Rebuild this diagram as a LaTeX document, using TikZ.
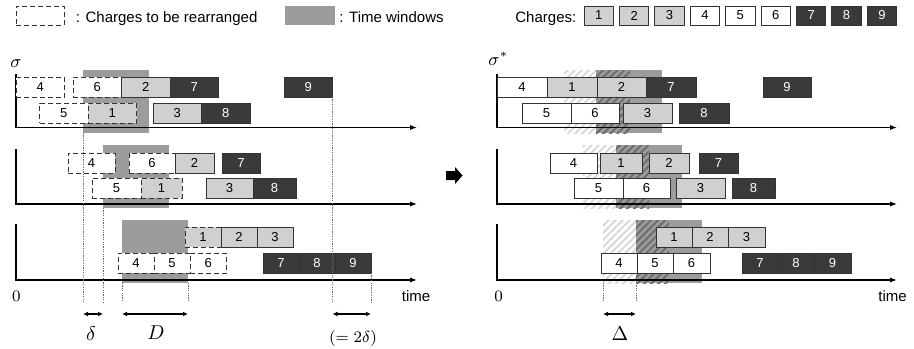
\documentclass[tikz,border=0pt]{standalone}
\usepackage{fontspec}
\setmainfont{Liberation Sans}
\usepackage[dvipsnames]{xcolor}
\usetikzlibrary{positioning,arrows.meta,patterns.meta}

\definecolor{lightbar}{HTML}{D0D0D0}
\definecolor{darkbar}{HTML}{3A3A3A}
\definecolor{winshade}{HTML}{9C9C9C}
\definecolor{hatchlight}{HTML}{D8D8D8}
\definecolor{hatchdark}{HTML}{6E6E6E}

\begin{document}
\begin{tikzpicture}[x=0.5pt,y=-0.5pt,
  bar/.style={draw=black!80,line width=0.5pt,fill=white,minimum height=10pt,inner sep=0pt,outer sep=0pt,anchor=north west,font=\fontsize{6.5}{7}\selectfont},
  barw/.style={minimum width=#1*0.5pt},
  lite/.style={fill=lightbar},
  dark/.style={fill=darkbar,text=white},
  moved/.style={dash pattern=on 2.5pt off 1.5pt},
  window/.style={fill=winshade,minimum width=33pt,minimum height=31.5pt,inner sep=0pt,outer sep=0pt,anchor=north west},
  hatch/.style={pattern={Lines[angle=45,distance=2.5pt,line width=1pt]},pattern color=hatchlight,minimum width=33pt,minimum height=31.5pt,inner sep=0pt,outer sep=0pt,anchor=north west},
  axis/.style={line width=0.6pt,-{Latex[length=3.5pt,width=2.6pt]}},
  guide/.style={black!60,line width=0.4pt,dash pattern=on 0.6pt off 0.6pt},
  dimline/.style={line width=0.6pt,{Latex[length=2.5pt,width=2.4pt]}-{Latex[length=2.5pt,width=2.4pt]}},
  legend/.style={font=\fontsize{7.5}{9}\selectfont,inner sep=0pt,anchor=base west},
  maths/.style={font=\fontsize{8.5}{10}\selectfont,inner sep=0pt},
  bigmaths/.style={font=\fontsize{10}{12}\selectfont,inner sep=0pt}]

\useasboundingbox (0,0) rectangle (914,348);

% legend
\node[bar,moved,barw=48,minimum height=9.5pt] (keyMoved) at (16,6) {};
\node[legend] (keyMovedText) at (75.5,22) {: Charges to be rearranged};
\node[window,minimum width=25pt,minimum height=9.5pt] (keyWin) at (285,6) {};
\node[legend] (keyWinText) at (339,22) {: Time windows};
\node[legend] (keyCharges) at (515,22) {Charges:};
\node[bar,lite,barw=29.5,minimum height=9.5pt] (K1) at (584,6) {1};
\node[bar,lite,barw=29.5,minimum height=9.5pt,right=2.95pt of K1] (K2) {2};
\node[bar,lite,barw=29.5,minimum height=9.5pt,right=2.95pt of K2] (K3) {3};
\node[bar,barw=29.5,minimum height=9.5pt,right=2.95pt of K3] (K4) {4};
\node[bar,barw=29.5,minimum height=9.5pt,right=2.95pt of K4] (K5) {5};
\node[bar,barw=29.5,minimum height=9.5pt,right=2.95pt of K5] (K6) {6};
\node[bar,dark,barw=29.5,minimum height=9.5pt,right=2.95pt of K6] (K7) {7};
\node[bar,dark,barw=29.5,minimum height=9.5pt,right=2.95pt of K7] (K8) {8};
\node[bar,dark,barw=29.5,minimum height=9.5pt,right=2.95pt of K8] (K9) {9};

% time windows
\node[window] (LW1) at (83,70) {};
\node[window] (LW2) at (103,145) {};
\node[window] (LW3) at (122,220) {};
\node[hatch] (RH1) at (564,70) {};
\node[hatch] (RH2) at (583,145) {};
\node[hatch] (RH3) at (603,220) {};
\node[window] (RW1) at (596,70) {};
\node[window] (RW2) at (616,145) {};
\node[window] (RW3) at (636,220) {};
\fill[pattern={Lines[angle=45,distance=2.5pt,line width=1pt]},pattern color=hatchdark] (RW1.north west) rectangle (RH1.south east);
\fill[pattern={Lines[angle=45,distance=2.5pt,line width=1pt]},pattern color=hatchdark] (RW2.north west) rectangle (RH2.south east);
\fill[pattern={Lines[angle=45,distance=2.5pt,line width=1pt]},pattern color=hatchdark] (RW3.north west) rectangle (RH3.south east);

% axes
\draw[axis] (16,74) |- (417,127.5);
\draw[axis] (16,149) |- (417,204);
\draw[axis] (16,224) |- (417,280);
\draw[axis] (497,74) |- (897,127.5);
\draw[axis] (497,149) |- (897,204);
\draw[axis] (497,224) |- (897,280);

% sigma, first panel
\node[bar,moved,barw=48.5] (L1-4) at (16,77) {4};
\node[bar,moved,barw=48.5] (L1-6) at (73,77) {6};
\node[bar,lite,barw=48.5,right=0pt of L1-6] (L1-2) {2};
\node[bar,dark,barw=48.5,right=0pt of L1-2] (L1-7) {7};
\node[bar,dark,barw=48.5] (L1-9) at (284,77) {9};
\node[bar,moved,barw=48.5] (L1-5) at (39.5,103) {5};
\node[bar,moved,lite,barw=48.5,right=0pt of L1-5] (L1-1) {1};
\node[bar,lite,barw=48.5] (L1-3) at (153,103) {3};
\node[bar,dark,barw=48.5,right=0pt of L1-3] (L1-8) {8};

% sigma, second panel
\node[bar,moved,barw=47] (L2-4) at (68,153) {4};
\node[bar,moved,barw=46] (L2-6) at (129,153) {6};
\node[bar,lite,barw=39,right=0pt of L2-6] (L2-2) {2};
\node[bar,dark,barw=38] (L2-7) at (222,153) {7};
\node[bar,moved,barw=49] (L2-5) at (92,178) {5};
\node[bar,moved,lite,barw=41,right=0pt of L2-5] (L2-1) {1};
\node[bar,lite,barw=47] (L2-3) at (206,178) {3};
\node[bar,dark,barw=43,right=0pt of L2-3] (L2-8) {8};

% sigma, third panel
\node[bar,moved,lite,barw=36] (L3-1) at (185,227) {1};
\node[bar,lite,barw=36,right=0pt of L3-1] (L3-2) {2};
\node[bar,lite,barw=36,right=0pt of L3-2] (L3-3) {3};
\node[bar,moved,barw=36] (L3-4) at (118,253) {4};
\node[bar,moved,barw=36,right=0pt of L3-4] (L3-5) {5};
\node[bar,moved,barw=36.5,right=0pt of L3-5] (L3-6) {6};
\node[bar,dark,barw=36] (L3-7) at (263,253) {7};
\node[bar,dark,barw=36,right=0pt of L3-7] (L3-8) {8};
\node[bar,dark,barw=36,right=0pt of L3-8] (L3-9) {9};

% sigma*, first panel
\node[bar,barw=50] (R1-4) at (497,77) {4};
\node[bar,lite,barw=50,right=0pt of R1-4] (R1-1) {1};
\node[bar,lite,barw=49,right=0pt of R1-1] (R1-2) {2};
\node[bar,dark,barw=50,right=0pt of R1-2] (R1-7) {7};
\node[bar,dark,barw=48] (R1-9) at (763,77) {9};
\node[bar,barw=49] (R1-5) at (522,103) {5};
\node[bar,barw=48,right=0pt of R1-5] (R1-6) {6};
\node[bar,lite,barw=49] (R1-3) at (623,103) {3};
\node[bar,dark,barw=50] (R1-8) at (679,103) {8};

% sigma*, second panel
\node[bar,barw=47] (R2-4) at (550,153) {4};
\node[bar,lite,barw=42] (R2-1) at (600,153) {1};
\node[bar,lite,barw=40] (R2-2) at (649,153) {2};
\node[bar,dark,barw=39] (R2-7) at (699,153) {7};
\node[bar,barw=49] (R2-5) at (574,178) {5};
\node[bar,barw=47,right=0pt of R2-5] (R2-6) {6};
\node[bar,lite,barw=49] (R2-3) at (676,178) {3};
\node[bar,dark,barw=43] (R2-8) at (732,178) {8};

% sigma*, third panel
\node[bar,lite,barw=36] (R3-1) at (656,227) {1};
\node[bar,lite,barw=36,right=0pt of R3-1] (R3-2) {2};
\node[bar,lite,barw=37,right=0pt of R3-2] (R3-3) {3};
\node[bar,barw=36] (R3-4) at (601,253) {4};
\node[bar,barw=36,right=0pt of R3-4] (R3-5) {5};
\node[bar,barw=37,right=0pt of R3-5] (R3-6) {6};
\node[bar,dark,barw=36] (R3-7) at (742,253) {7};
\node[bar,dark,barw=36,right=0pt of R3-7] (R3-8) {8};
\node[bar,dark,barw=37,right=0pt of R3-8] (R3-9) {9};

% axis labels
\node[maths,font=\fontsize{9}{11}\selectfont,anchor=base west] (sig) at (10,67) {$\sigma$};
\node[maths,font=\fontsize{9}{11}\selectfont,anchor=base west] (sigstar) at (488,65) {$\sigma^*$};
\node[maths] (zeroL) at (16.5,296.5) {$0$};
\node[maths] (zeroR) at (498.5,296.5) {$0$};
\node[legend] (timeL) at (401.5,301.5) {time};
\node[legend] (timeR) at (878,301.5) {time};

% guides and spans
\coordinate (base) at (0,302);
\coordinate (dim) at (0,314);
\draw[guide] (LW1.south west) -- (LW1.south west |- base);
\draw[guide] (LW2.south west) -- (LW2.south west |- base);
\draw[guide] (LW3.south west) -- (LW3.south west |- base);
\draw[guide] (LW3.south east) -- (LW3.south east |- base);
\draw[guide] (L1-9.south east) -- (L1-9.south east |- base);
\draw[guide] (L3-9.south east) -- (L3-9.south east |- base);
\draw[guide] (RH3.south west) -- (RH3.south west |- base);
\draw[guide] (RW3.south west) -- (RW3.south west |- base);

\draw[dimline] (LW1.south west |- dim) -- (LW2.south west |- dim);
\draw[dimline] (LW3.south west |- dim) -- (LW3.south east |- dim);
\draw[dimline] (L1-9.south east |- dim) -- (L3-9.south east |- dim);
\draw[dimline] (RH3.south west |- dim) -- (RW3.south west |- dim);

\node[bigmaths] (delta) at (91,334) {$\delta$};
\node[bigmaths] (bigD) at (156,333) {$D$};
\node[maths] (twodelta) at (353,338) {$(=2\delta)$};
\node[bigmaths] (bigDelta) at (620,333.5) {$\Delta$};

% arrow between the two schedules
\fill (446,171) -- (455,171) -- (455,167) -- (462.5,175.5) -- (455,184) -- (455,180) -- (446,180) -- cycle;

\end{tikzpicture}
\end{document}
